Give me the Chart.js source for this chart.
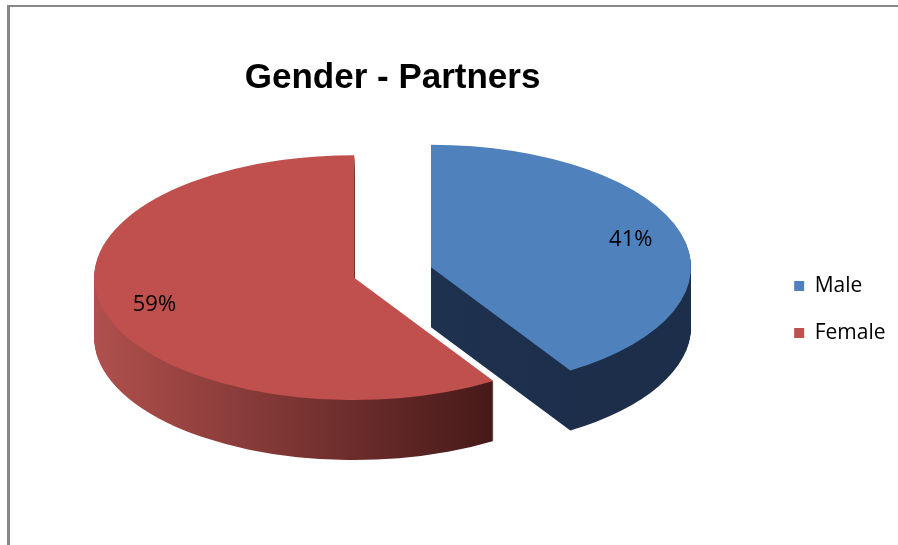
<!DOCTYPE html>
<html>
<head>
<meta charset="utf-8">
<script src="https://cdn.jsdelivr.net/npm/chart.js@4.4.1/dist/chart.umd.min.js"></script>
<style>
  html, body { margin: 0; padding: 0; overflow: hidden; background: #fff; }
  #wrap { position: absolute; left: 0; top: 0; width: 898px; height: 545px; }
  #frame { position: absolute; left: 7px; top: 5px; width: 1000px; height: 1000px;
           border-left: 3px solid #878787; border-top: 2px solid #878787; }
</style>
</head>
<body>
<div id="frame"></div>
<div id="wrap"><canvas id="pie"></canvas></div>
<script>
var labels = ['Male', 'Female'];
var shares = [41, 59];
var topColors = ['#4f81bd', '#c0504d'];
var sideColors = [['#22385a', '#1c2e4a'], ['#b0504d', '#451918']];

var TILT = 0.471;   // vertical squash of the pie
var DEPTH = 60;     // slab thickness
var EXPLODE = 40;   // slice pull-out
var LABEL_R = 0.8;

function place(ctx, arc, cx, cy, dy) {
    var mid = (arc.startAngle + arc.endAngle) / 2;
    ctx.translate(0, dy);
    ctx.translate(cx, cy);
    ctx.scale(1, TILT);
    ctx.translate(-cx, -cy);
    ctx.translate(Math.cos(mid) * EXPLODE, Math.sin(mid) * EXPLODE);
}

var pie3d = {
    id: 'pie3d',
    beforeDatasetsDraw: function (chart) {
        var ctx = chart.ctx;
        var arcs = chart.getDatasetMeta(0).data;
        var cx = arcs[0].x, cy = arcs[0].y;

        // side walls, stacked from the bottom up
        for (var d = DEPTH; d > 0; d--) {
            arcs.forEach(function (arc, i) {
                ctx.save();
                place(ctx, arc, cx, cy, d);
                var r = arc.outerRadius;
                var g = ctx.createLinearGradient(cx - r, 0, cx + r * 0.55, 0);
                g.addColorStop(0, sideColors[i][0]);
                g.addColorStop(1, sideColors[i][1]);
                ctx.fillStyle = g;
                ctx.beginPath();
                ctx.moveTo(cx, cy);
                ctx.arc(cx, cy, r, arc.startAngle, arc.endAngle);
                ctx.closePath();
                ctx.fill();
                ctx.restore();
            });
        }

        // top faces
        arcs.forEach(function (arc) {
            ctx.save();
            place(ctx, arc, cx, cy, 0);
            arc.draw(ctx);
            ctx.restore();
        });
        return false;
    },
    afterDraw: function (chart) {
        var ctx = chart.ctx;
        var arcs = chart.getDatasetMeta(0).data;
        var cx = arcs[0].x, cy = arcs[0].y;
        var total = shares.reduce(function (a, b) { return a + b; }, 0);
        ctx.save();
        ctx.font = '22px "Open Sans"';
        ctx.fillStyle = '#000';
        ctx.textAlign = 'center';
        ctx.textBaseline = 'middle';
        arcs.forEach(function (arc, i) {
            var mid = (arc.startAngle + arc.endAngle) / 2;
            var dist = EXPLODE + arc.outerRadius * LABEL_R;
            var x = cx + Math.cos(mid) * dist;
            var y = cy + Math.sin(mid) * dist * TILT;
            ctx.fillText(Math.round(shares[i] / total * 100) + '%', x, y);
        });
        ctx.restore();
    }
};

new Chart(document.getElementById('pie'), {
    type: 'pie',
    data: {
        labels: labels,
        datasets: [{
            data: shares,
            backgroundColor: topColors,
            borderWidth: 0,
            clip: false
        }]
    },
    options: {
        responsive: true,
        maintainAspectRatio: false,
        animation: false,
        events: [],
        radius: 260,
        layout: {
            padding: { left: 17, right: 2.5, top: 0, bottom: 175.5 }
        },
        plugins: {
            tooltip: { enabled: false },
            title: {
                display: true,
                text: 'Gender - Partners',
                fullSize: false,
                color: '#000',
                font: { family: '"Liberation Sans", Arial', size: 35, weight: 'bold' },
                padding: { top: 57, bottom: 76.3 }
            },
            legend: {
                position: 'right',
                align: 'end',
                fullSize: false,
                labels: {
                    boxWidth: 10,
                    boxHeight: 10,
                    padding: 26,
                    color: '#000',
                    font: { family: '"Open Sans"', size: 21 }
                }
            }
        }
    },
    plugins: [pie3d]
});
</script>
</body>
</html>
